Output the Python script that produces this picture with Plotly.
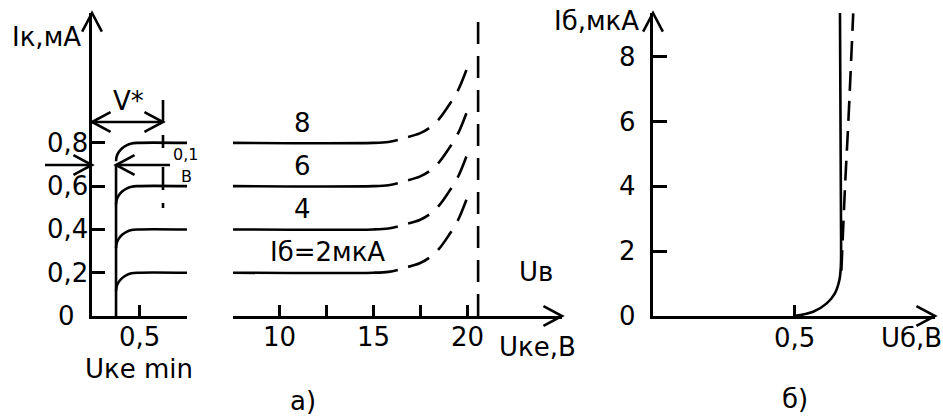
import math
import plotly.graph_objects as go

W, H = 943, 418
FONT = "DejaVu Sans"
FS = 26
LW = 2.6
AW = 3

# ---------------- data ----------------
# Output characteristics (panel a)
ib_labels = ["Iб=2мкА", "4", "6", "8"]
ic_levels = [0.2, 0.4, 0.6, 0.8]            # mA
# saturation part (left break of U axis), U in V
sat_vert_u = [0.253, 0.253]
sat_vert_i = [0.0, 0.697]
knee_u = [0.253, 0.26, 0.282, 0.317, 0.363, 0.416, 0.473, 1.0]
knee_di = [-0.085, -0.063, -0.0425, -0.025, -0.0114, -0.0029, 0.0, 0.0]
# active part, solid and dashed (breakdown) sections
act_u_solid = [7.5, 15.0, 15.8, 16.3]
act_di_solid = [0.0, 0.0, 0.004, 0.013]
act_u_dash = [16.85, 17.5, 18.0, 18.5, 19.0, 19.5, 20.0]
act_di_dash = [0.027, 0.045, 0.07, 0.11, 0.17, 0.24, 0.345]
u_breakdown = 20.59
# Input characteristic (panel b)
inp_u = [0.5, 0.568, 0.616, 0.645, 0.661, 0.666, 0.667, 0.663]
inp_i = [0.0, 0.13, 0.39, 0.70, 1.11, 1.52, 2.35, 9.35]
inp2_u = [0.668, 0.681, 0.693, 0.710]
inp2_i = [1.4, 4.0, 6.05, 9.34]

# tick labels
ya_ticks = [0.2, 0.4, 0.6, 0.8]
ya_text = ["0,2", "0,4", "0,6", "0,8"]
x1_ticks = [0.5, 1.0]
x2_ticks = [7.5, 10, 12.5, 15, 17.5, 20]
x2_lab_vals = [10, 15, 20]
x2_lab_text = ["10", "15", "20"]
yb_ticks = [0, 2, 4, 6, 8]
yb_text = ["0", "2", "4", "6", "8"]
x3_ticks = [0.5]

# ---------------- helpers ----------------
def fx(px):
    return px / W

def fy(py):
    return 1 - py / H

shapes = []
annotations = []

def seg(x0, y0, x1, y1, width=LW, dash=None):
    d = dict(type="line", xref="paper", yref="paper",
             x0=fx(x0), y0=fy(y0), x1=fx(x1), y1=fy(y1),
             line=dict(color="black", width=width))
    if dash:
        d["line"]["dash"] = dash
    shapes.append(d)

def head(tx, ty, ang, L=21, half=28, width=LW):
    pts = []
    for s in (1, -1):
        a = math.radians(ang + 180 + s * half)
        pts.append((tx + L * math.cos(a), ty - L * math.sin(a)))
    path = "M {:.5f},{:.5f} L {:.5f},{:.5f} L {:.5f},{:.5f}".format(
        fx(pts[0][0]), fy(pts[0][1]), fx(tx), fy(ty), fx(pts[1][0]), fy(pts[1][1]))
    shapes.append(dict(type="path", xref="paper", yref="paper", path=path,
                       line=dict(color="black", width=width)))

def text(t, px, py, size=FS, xanchor="center"):
    annotations.append(dict(text=t, x=fx(px), y=fy(py), xref="paper", yref="paper",
                            showarrow=False, xanchor=xanchor, yanchor="middle",
                            font=dict(family=FONT, size=size, color="black")))

def axtext(t, x, y, xref, yref, xanchor="center", xshift=0, yshift=0, size=FS):
    annotations.append(dict(text=t, x=x, y=y, xref=xref, yref=yref, showarrow=False,
                            xanchor=xanchor, yanchor="middle", xshift=xshift, yshift=yshift,
                            font=dict(family=FONT, size=size, color="black")))

# ---------------- figure ----------------
fig = go.Figure()
solid = dict(color="black", width=LW)
dashed = dict(color="black", width=LW, dash="23px,12px")

# panel a, left break
fig.add_trace(go.Scatter(x=sat_vert_u, y=sat_vert_i, mode="lines", line=solid,
                         xaxis="x", yaxis="y", showlegend=False, hoverinfo="skip"))
for lvl in ic_levels:
    fig.add_trace(go.Scatter(x=knee_u, y=[lvl + d for d in knee_di], mode="lines",
                             line=dict(solid, shape="spline"), xaxis="x", yaxis="y",
                             showlegend=False, hoverinfo="skip"))
# panel a, right part
for lvl in ic_levels:
    fig.add_trace(go.Scatter(x=act_u_solid, y=[lvl + d for d in act_di_solid], mode="lines",
                             line=dict(solid, shape="spline"), xaxis="x2", yaxis="y",
                             showlegend=False, hoverinfo="skip"))
    fig.add_trace(go.Scatter(x=act_u_dash, y=[lvl + d for d in act_di_dash], mode="lines",
                             line=dict(dashed, shape="spline"), xaxis="x2", yaxis="y",
                             showlegend=False, hoverinfo="skip"))
fig.add_trace(go.Scatter(x=[u_breakdown, u_breakdown], y=[0, 1.40], mode="lines",
                         line=dict(color="black", width=LW, dash="22px,12px"),
                         xaxis="x2", yaxis="y", showlegend=False, hoverinfo="skip"))
# panel b
fig.add_trace(go.Scatter(x=inp_u, y=inp_i, mode="lines", line=dict(solid, shape="spline"),
                         xaxis="x3", yaxis="y2", showlegend=False, hoverinfo="skip"))
fig.add_trace(go.Scatter(x=inp2_u, y=inp2_i, mode="lines",
                         line=dict(color="black", width=LW, dash="20px,10px", shape="spline"),
                         xaxis="x3", yaxis="y2", showlegend=False, hoverinfo="skip"))

ydom = [fy(316), fy(13)]
axcommon = dict(showgrid=False, zeroline=False, showline=True, linecolor="black",
                linewidth=AW, ticks="inside", tickcolor="black", tickwidth=AW,
                showticklabels=False, fixedrange=True)

fig.update_layout(
    width=W, height=H, margin=dict(l=0, r=0, t=0, b=0),
    paper_bgcolor="white", plot_bgcolor="rgba(0,0,0,0)",
    xaxis=dict(axcommon, domain=[fx(92), fx(187)], range=[0, 1.0], anchor="y",
               tickvals=x1_ticks, ticklen=11),
    xaxis2=dict(axcommon, domain=[fx(233), fx(562)], range=[7.5, 25.07], anchor="y",
                tickvals=x2_ticks, ticklen=11),
    yaxis=dict(axcommon, domain=ydom, range=[0, 1.40], anchor="x",
               tickvals=ya_ticks, ticklen=13),
    xaxis3=dict(axcommon, domain=[fx(653), fx(935)], range=[0, 1.0], anchor="y2",
                tickvals=x3_ticks, ticklen=11),
    yaxis2=dict(axcommon, domain=ydom, range=[0, 9.35], anchor="x3",
                tickvals=yb_ticks, ticklen=14),
)

# axis arrow heads
head(92, 13, 90)
head(562, 316, 0)
head(653, 13, 90)
head(935, 316, 0)

# V* dimension arrow
seg(92, 122, 163, 122)
head(92, 122, 180)
head(163, 122, 0)
seg(163, 100, 163, 123)
# 0,1 V marker line
seg(163, 135, 163, 148)
seg(163, 167, 163, 190)
seg(163, 203, 163, 208)
# arrows at 0.7 mA level
seg(45, 165, 92, 165)
head(92, 165, 0)
seg(116, 165, 170, 165)
head(116, 165, 180)

# tick labels via axes
for v, t in zip(ya_ticks, ya_text):
    axtext(t, 0, v, "x", "y", xanchor="right", xshift=-2)
axtext("0", 0, 0, "x", "y", xanchor="right", xshift=-15)
axtext("0,5", 0.5, 0, "x", "y", yshift=-21)
for v, t in zip(x2_lab_vals, x2_lab_text):
    axtext(t, v, 0, "x2", "y", yshift=-21)
for v, t in zip(yb_ticks, yb_text):
    axtext(t, 0, v, "x3", "y2", xanchor="right", xshift=-15)
axtext("0,5", 0.5, 0, "x3", "y2", yshift=-22)

# curve labels
label_px = [(327, 252), (302, 209), (302, 166), (302, 123)]
for t, (px, py) in zip(ib_labels, label_px):
    text(t, px, py)

text("Iк,мА", 46, 37)
text("V*", 128, 101)
text("0,1", 185, 154, size=16)
text("В", 186, 176, size=16)
text("Uв", 536, 272)
text("Uке,В", 537, 347)
text("Uке min", 139, 369)
text("а)", 303, 401)
text("Iб,мкА", 596, 21)
text("Uб,В", 911, 338)
text("б)", 795, 399)

fig.update_layout(shapes=shapes, annotations=annotations)
fig.write_html("out.html", config={"displayModeBar": False},
               post_script="document.body.style.margin='0px';")
